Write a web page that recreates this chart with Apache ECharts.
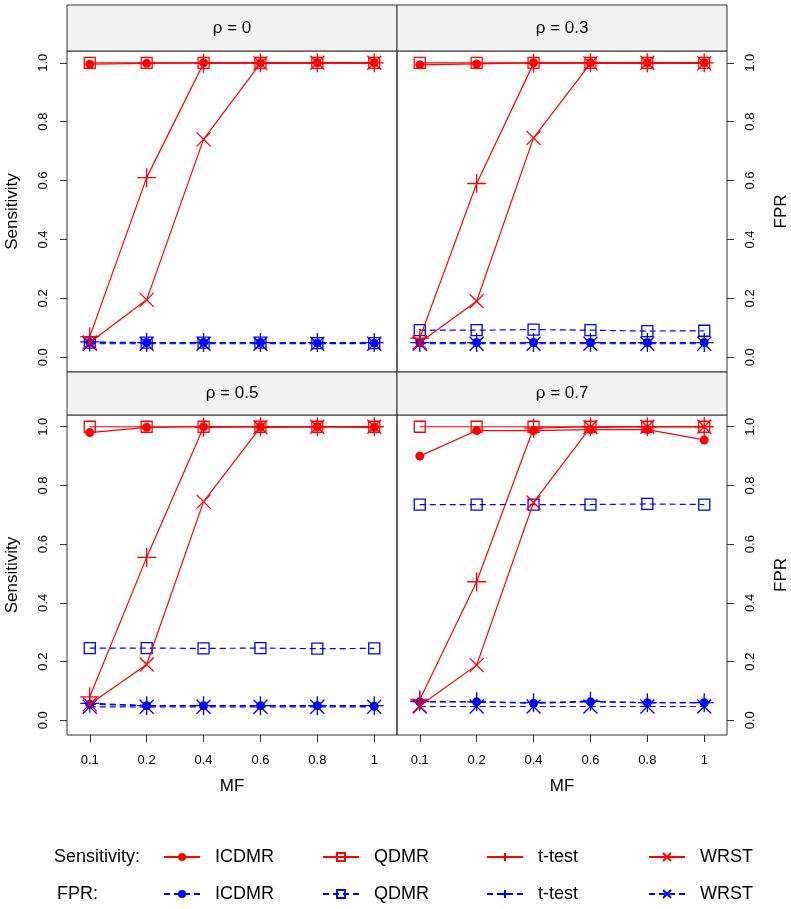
<!DOCTYPE html>
<html>
<head>
<meta charset="utf-8">
<script src="https://cdn.jsdelivr.net/npm/echarts@6/dist/echarts.min.js"></script>
<style>
  html, body { margin: 0; background: #fff; }
  #chart { width: 791px; height: 909px; }
</style>
</head>
<body>
<div id="chart"></div>
<script>
// categories
const mfLabels = ['0.1', '0.2', '0.4', '0.6', '0.8', '1'];
const rhoLabels = ['\u03c1 = 0', '\u03c1 = 0.3', '\u03c1 = 0.5', '\u03c1 = 0.7'];
const methods = ['ICDMR', 'QDMR', 't-test', 'WRST'];
const yTicks = [0, 0.2, 0.4, 0.6, 0.8, 1.0];

// sensitivity, one row per method (ICDMR, QDMR, t-test, WRST)
const sensRho0 = [
  [0.995, 0.998, 1, 1, 1, 1],
  [1, 1, 1, 1, 1, 1],
  [0.07, 0.61, 0.998, 1, 1, 1],
  [0.05, 0.195, 0.74, 0.998, 1, 1]
];
const sensRho3 = [
  [0.993, 0.996, 1, 1, 1, 1],
  [1, 1, 1, 1, 1, 1],
  [0.065, 0.59, 0.998, 1, 1, 1],
  [0.05, 0.19, 0.745, 0.998, 1, 0.998]
];
const sensRho5 = [
  [0.98, 0.998, 1, 1, 1, 0.998],
  [1, 1, 1, 1, 1, 1],
  [0.08, 0.555, 0.998, 1, 1, 1],
  [0.055, 0.19, 0.745, 0.998, 1, 1]
];
const sensRho7 = [
  [0.9, 0.987, 0.987, 0.99, 0.99, 0.955],
  [1, 1, 1, 1, 1, 1],
  [0.07, 0.472, 0.995, 1, 1, 1],
  [0.05, 0.188, 0.742, 0.998, 1, 1]
];

// false positive rate, same row order
const fprRho0 = [
  [0.05, 0.05, 0.05, 0.05, 0.048, 0.048],
  [0.05, 0.05, 0.05, 0.05, 0.048, 0.048],
  [0.052, 0.05, 0.05, 0.05, 0.05, 0.05],
  [0.046, 0.046, 0.046, 0.046, 0.046, 0.046]
];
const fprRho3 = [
  [0.05, 0.05, 0.05, 0.05, 0.05, 0.05],
  [0.092, 0.092, 0.094, 0.092, 0.089, 0.09],
  [0.05, 0.05, 0.05, 0.05, 0.05, 0.05],
  [0.046, 0.046, 0.046, 0.046, 0.046, 0.046]
];
const fprRho5 = [
  [0.055, 0.05, 0.05, 0.05, 0.05, 0.048],
  [0.246, 0.246, 0.245, 0.246, 0.244, 0.245],
  [0.058, 0.05, 0.05, 0.05, 0.05, 0.05],
  [0.046, 0.046, 0.046, 0.046, 0.046, 0.046]
];
const fprRho7 = [
  [0.063, 0.063, 0.058, 0.063, 0.06, 0.06],
  [0.735, 0.735, 0.735, 0.735, 0.737, 0.735],
  [0.064, 0.063, 0.06, 0.065, 0.06, 0.06],
  [0.047, 0.047, 0.047, 0.047, 0.047, 0.047]
];

const sens = [sensRho0, sensRho3, sensRho5, sensRho7];
const fpr = [fprRho0, fprRho3, fprRho5, fprRho7];

const RED = '#ff0000';
const BLUE = '#0000ff';
const FONT = '"Liberation Sans", Arial, sans-serif';

const symbolOf = {
  'ICDMR': 'circle',
  'QDMR': 'rect',
  't-test': 'path://M0,5L10,5M5,0L5,10',
  'WRST': 'path://M0,0L10,10M10,0L0,10'
};
const sizeOf = { 'ICDMR': 9, 'QDMR': 11, 't-test': 19, 'WRST': 14 };

function itemStyleFor(m, color) {
  if (m === 'ICDMR') return { color: color, borderWidth: 0 };
  return { color: 'rgba(0,0,0,0)', borderColor: color, borderWidth: 1.3 };
}

const grids = [
  { left: 67, top: 51, width: 330, height: 321 },
  { left: 397, top: 51, width: 330, height: 321 },
  { left: 67, top: 415, width: 330, height: 320 },
  { left: 397, top: 415, width: 330, height: 320 }
];

const xAxes = grids.map((g, i) => ({
  type: 'value', gridIndex: i, min: -0.4, max: 5.4, position: 'bottom',
  axisLine: { show: false, onZero: false },
  splitLine: { show: false },
  axisTick: { show: i >= 2, customValues: [0, 1, 2, 3, 4, 5], length: 7, lineStyle: { color: '#333' } },
  axisLabel: {
    show: i >= 2, customValues: [0, 1, 2, 3, 4, 5], margin: 19,
    formatter: v => mfLabels[Math.round(v)], fontSize: 13, color: '#000', fontFamily: FONT
  },
  name: i >= 2 ? 'MF' : '', nameLocation: 'middle', nameGap: 43,
  nameTextStyle: { fontSize: 17, color: '#000', fontFamily: FONT }
}));

const yAxes = grids.map((g, i) => ({
  type: 'value', gridIndex: i, min: -0.05, max: 1.04,
  position: i % 2 === 0 ? 'left' : 'right',
  axisLine: { show: false, onZero: false },
  splitLine: { show: false },
  axisTick: { show: true, customValues: yTicks, length: 7, lineStyle: { color: '#333' } },
  axisLabel: {
    customValues: yTicks, rotate: 90, margin: 17,
    formatter: v => v.toFixed(1), fontSize: 13, color: '#000', fontFamily: FONT
  },
  name: i % 2 === 0 ? 'Sensitivity' : 'FPR', nameLocation: 'middle', nameGap: 46, nameRotate: 90,
  nameTextStyle: { fontSize: 17, color: '#000', fontFamily: FONT }
}));

const series = [];
for (let p = 0; p < 4; p++) {
  methods.forEach((m, k) => {
    series.push({
      name: 'Sensitivity ' + m, type: 'line', xAxisIndex: p, yAxisIndex: p,
      data: sens[p][k].map((v, i) => [i, v]),
      symbol: symbolOf[m], symbolSize: sizeOf[m], showAllSymbol: true,
      lineStyle: { color: RED, width: 1.2, type: 'solid' },
      itemStyle: itemStyleFor(m, RED),
      emphasis: { disabled: true }, z: 3
    });
  });
  methods.forEach((m, k) => {
    series.push({
      name: 'FPR ' + m, type: 'line', xAxisIndex: p, yAxisIndex: p,
      data: fpr[p][k].map((v, i) => [i, v]),
      symbol: symbolOf[m], symbolSize: sizeOf[m], showAllSymbol: true,
      lineStyle: { color: BLUE, width: 1.2, type: [6, 4] },
      itemStyle: itemStyleFor(m, BLUE),
      emphasis: { disabled: true }, z: 2
    });
  });
}

// legends, one per item so they sit in R-like columns
const legendX = [163, 322, 486, 648];
const legends = [];
methods.forEach((m, k) => {
  [['Sensitivity', 848], ['FPR', 885]].forEach(([grp, top]) => {
    legends.push({
      data: [grp + ' ' + m], left: legendX[k], top: top,
      itemWidth: 36, itemHeight: 10, selectedMode: false, padding: 0,
      formatter: name => '  ' + name.split(' ')[1],
      textStyle: { fontSize: 18, color: '#000', fontFamily: FONT }
    });
  });
});

// strip headers
const graphics = [];
grids.forEach((g, i) => {
  const top = i < 2 ? 5 : 372;
  const h = i < 2 ? 46 : 43;
  graphics.push({
    type: 'rect', shape: { x: g.left, y: top, width: g.width, height: h },
    style: { fill: '#f2f2f2', stroke: '#333', lineWidth: 1 }, z: 10
  });
  graphics.push({
    type: 'text', x: g.left + g.width / 2, y: top + h / 2,
    style: { text: rhoLabels[i], fill: '#000', font: '17px ' + FONT, align: 'center', verticalAlign: 'middle' }, z: 11
  });
});
graphics.push({ type: 'text', x: 54, y: 857, style: { text: 'Sensitivity:', fill: '#000', font: '18px ' + FONT, verticalAlign: 'middle' } });
graphics.push({ type: 'text', x: 57, y: 894, style: { text: 'FPR:', fill: '#000', font: '18px ' + FONT, verticalAlign: 'middle' } });

const chart = echarts.init(document.getElementById('chart'));
chart.setOption({
  animation: false,
  backgroundColor: '#fff',
  textStyle: { fontFamily: FONT },
  grid: grids.map(g => Object.assign({ show: true, borderColor: '#333', borderWidth: 1, backgroundColor: 'transparent' }, g)),
  xAxis: xAxes,
  yAxis: yAxes,
  legend: legends,
  graphic: graphics,
  series: series
});
</script>
</body>
</html>
